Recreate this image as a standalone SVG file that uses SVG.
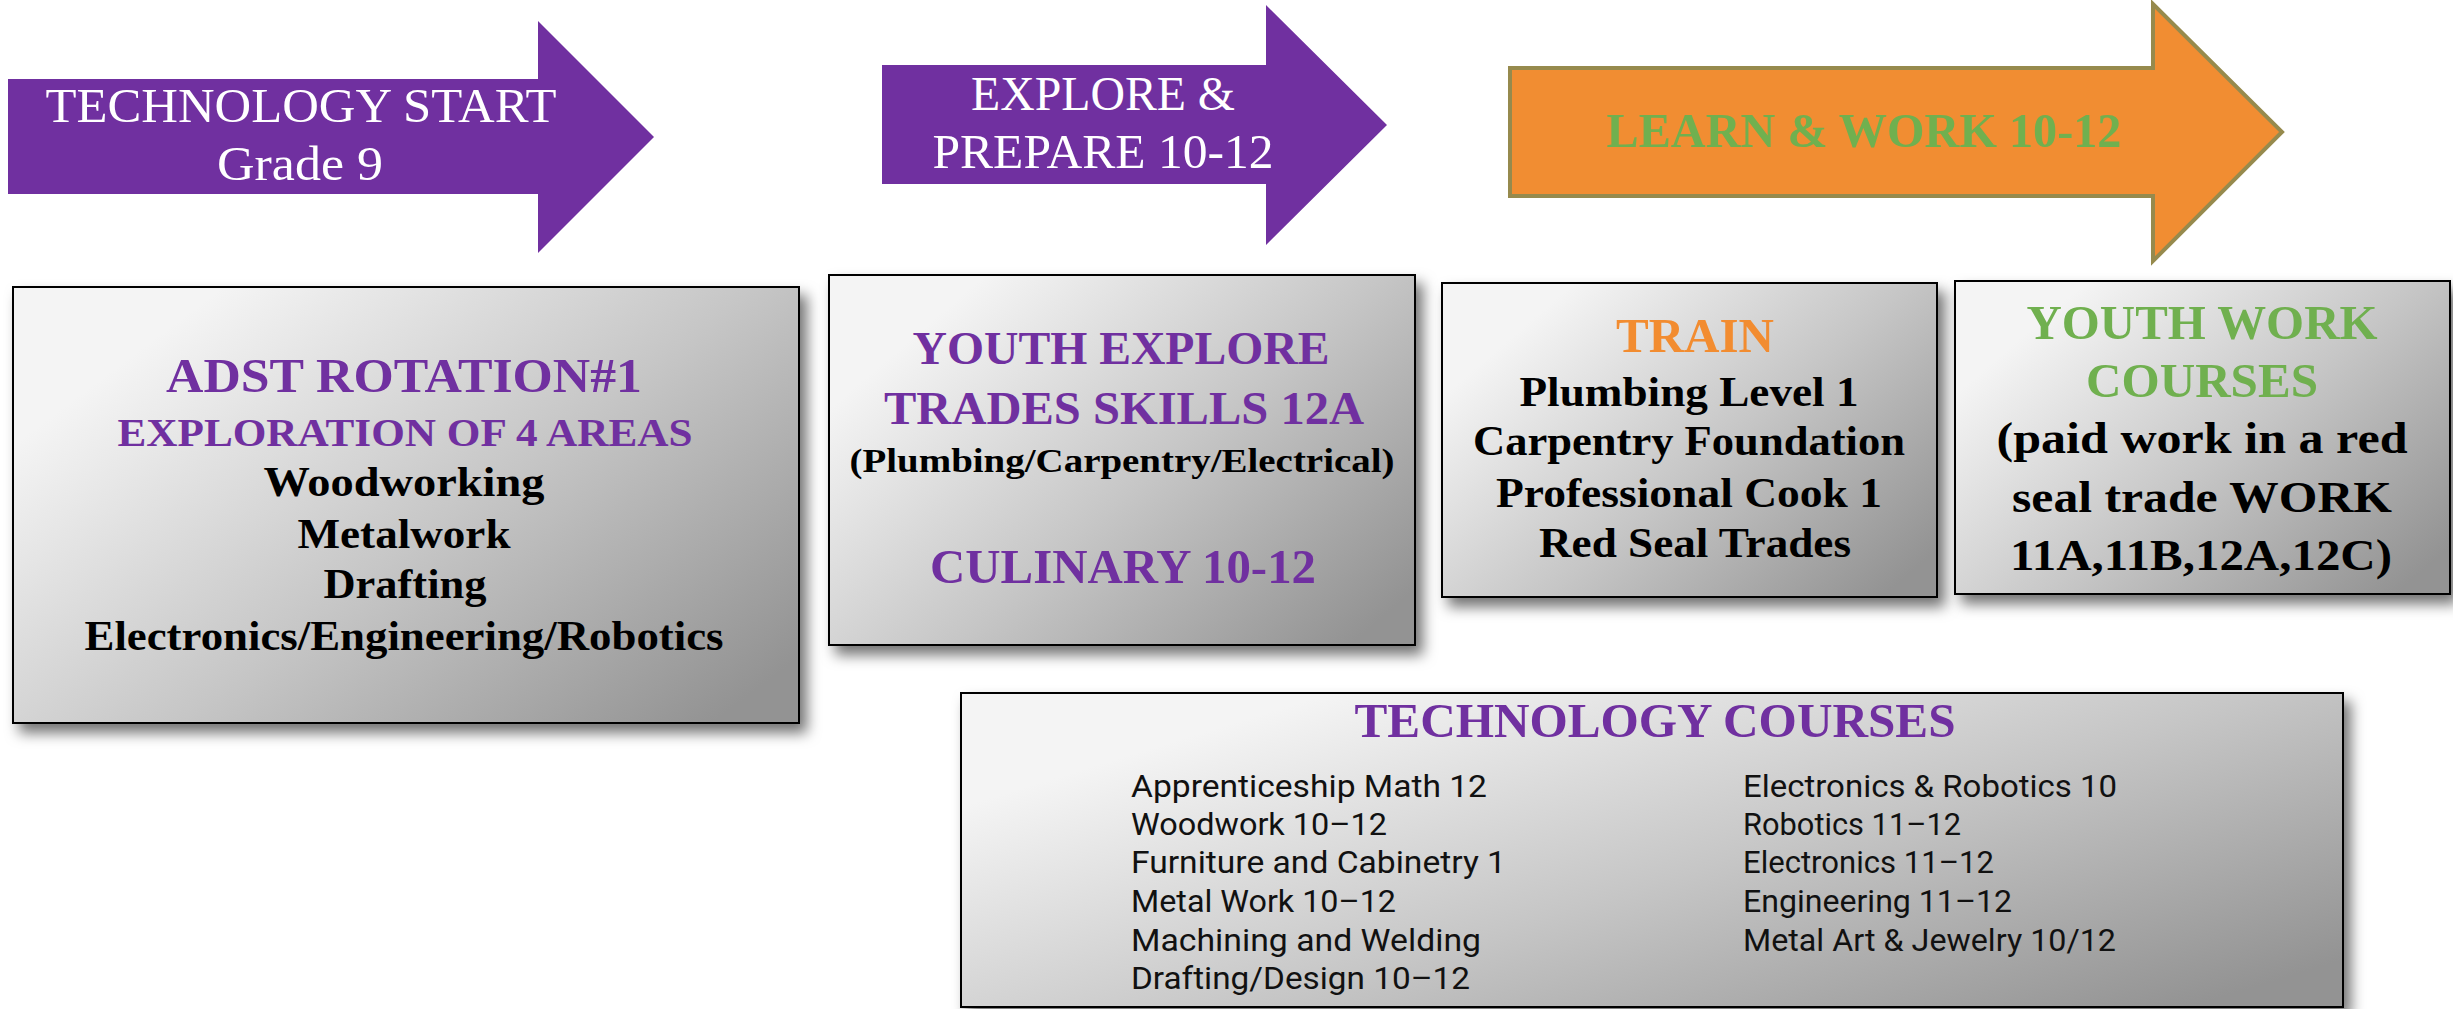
<svg xmlns="http://www.w3.org/2000/svg" width="2453" height="1009" viewBox="0 0 2453 1009">
<defs>
<linearGradient id="boxGrad" x1="0.12" y1="0.2" x2="1" y2="0.85">
<stop offset="0" stop-color="#f4f4f4"/>
<stop offset="0.5" stop-color="#c6c6c6"/>
<stop offset="1" stop-color="#939393"/>
</linearGradient>
<filter id="shadow" x="-10%" y="-10%" width="125%" height="130%">
<feDropShadow dx="7" dy="9" stdDeviation="7" flood-color="#000" flood-opacity="0.55"/>
</filter>
</defs>
<style>
.arrowP { fill: #7030A0; }
.arrowO { fill: #F18D32; stroke: #968A4D; stroke-width: 4; }
.box { fill: url(#boxGrad); stroke: #000; stroke-width: 2; filter: url(#shadow); }
.atxt { font-family: "Liberation Serif", serif; font-size: 48px; fill: #ffffff; text-anchor: middle; }
.sb { font-family: "Liberation Serif", serif; font-weight: bold; text-anchor: middle; }
.pur { fill: #7030A0; }
.blk { fill: #000000; }
.org { fill: #F28C30; }
.grn { fill: #70B04F; }
.course { font-family: Roboto, "Liberation Sans", sans-serif; font-size: 31px; fill: #111; }
</style>

<g id="arrow-technology-start">
<polygon class="arrowP" points="8,79 538,79 538,21 654,137 538,253 538,194 8,194"/>
<text class="atxt" x="301" y="122" textLength="511" lengthAdjust="spacingAndGlyphs">TECHNOLOGY START</text>
<text class="atxt" x="300" y="180" textLength="166" lengthAdjust="spacingAndGlyphs">Grade 9</text>
</g>

<g id="arrow-explore-prepare">
<polygon class="arrowP" points="882,65 1266,65 1266,5 1387,125 1266,245 1266,184 882,184"/>
<text class="atxt" x="1103" y="110" textLength="264" lengthAdjust="spacingAndGlyphs">EXPLORE &amp;</text>
<text class="atxt" x="1103" y="168" textLength="341" lengthAdjust="spacingAndGlyphs">PREPARE 10-12</text>
</g>

<g id="arrow-learn-work">
<polygon class="arrowO" points="1510,68 2153,68 2153,4 2282,132 2153,261 2153,196 1510,196"/>
<text class="sb grn" x="1864" y="147" font-size="48" textLength="515" lengthAdjust="spacingAndGlyphs">LEARN &amp; WORK 10-12</text>
</g>

<g id="box-adst">
<rect class="box" x="13" y="287" width="786" height="436"/>
<text class="sb pur" x="404" y="392" font-size="48" textLength="476" lengthAdjust="spacingAndGlyphs">ADST ROTATION#1</text>
<text class="sb pur" x="405" y="446" font-size="41" textLength="575" lengthAdjust="spacingAndGlyphs">EXPLORATION OF 4 AREAS</text>
<text class="sb blk" x="404" y="496" font-size="42" textLength="281" lengthAdjust="spacingAndGlyphs">Woodworking</text>
<text class="sb blk" x="404" y="548" font-size="42" textLength="213" lengthAdjust="spacingAndGlyphs">Metalwork</text>
<text class="sb blk" x="405" y="598" font-size="42" textLength="163" lengthAdjust="spacingAndGlyphs">Drafting</text>
<text class="sb blk" x="404" y="650" font-size="42" textLength="639" lengthAdjust="spacingAndGlyphs">Electronics/Engineering/Robotics</text>
</g>

<g id="box-youth-explore">
<rect class="box" x="829" y="275" width="586" height="370"/>
<text class="sb pur" x="1121" y="364" font-size="46" textLength="417" lengthAdjust="spacingAndGlyphs">YOUTH EXPLORE</text>
<text class="sb pur" x="1124" y="424" font-size="46" textLength="480" lengthAdjust="spacingAndGlyphs">TRADES SKILLS 12A</text>
<text class="sb blk" x="1122" y="472" font-size="33" textLength="545" lengthAdjust="spacingAndGlyphs">(Plumbing/Carpentry/Electrical)</text>
<text class="sb pur" x="1123" y="583" font-size="48" textLength="386" lengthAdjust="spacingAndGlyphs">CULINARY 10-12</text>
</g>

<g id="box-train">
<rect class="box" x="1442" y="283" width="495" height="314"/>
<text class="sb org" x="1695" y="352" font-size="48" textLength="158" lengthAdjust="spacingAndGlyphs">TRAIN</text>
<text class="sb blk" x="1689" y="406" font-size="43" textLength="339" lengthAdjust="spacingAndGlyphs">Plumbing Level 1</text>
<text class="sb blk" x="1689" y="455" font-size="43" textLength="432" lengthAdjust="spacingAndGlyphs">Carpentry Foundation</text>
<text class="sb blk" x="1689" y="507" font-size="43" textLength="386" lengthAdjust="spacingAndGlyphs">Professional Cook 1</text>
<text class="sb blk" x="1695" y="557" font-size="43" textLength="312" lengthAdjust="spacingAndGlyphs">Red Seal Trades</text>
</g>

<g id="box-youth-work">
<rect class="box" x="1955" y="281" width="495" height="313"/>
<text class="sb grn" x="2202" y="339" font-size="49" textLength="351" lengthAdjust="spacingAndGlyphs">YOUTH WORK</text>
<text class="sb grn" x="2202" y="397" font-size="49" textLength="232" lengthAdjust="spacingAndGlyphs">COURSES</text>
<text class="sb blk" x="2202" y="453" font-size="45" textLength="411" lengthAdjust="spacingAndGlyphs">(paid work in a red</text>
<text class="sb blk" x="2202" y="512" font-size="45" textLength="380" lengthAdjust="spacingAndGlyphs">seal trade WORK</text>
<text class="sb blk" x="2201" y="570" font-size="45" textLength="382" lengthAdjust="spacingAndGlyphs">11A,11B,12A,12C)</text>
</g>

<g id="box-technology-courses">
<rect class="box" x="961" y="693" width="1382" height="314"/>
<text class="sb pur" x="1655" y="737" font-size="48" textLength="601" lengthAdjust="spacingAndGlyphs">TECHNOLOGY COURSES</text>
<text class="course" x="1131" y="797" textLength="356" lengthAdjust="spacingAndGlyphs">Apprenticeship Math 12</text>
<text class="course" x="1131" y="835" textLength="256" lengthAdjust="spacingAndGlyphs">Woodwork 10–12</text>
<text class="course" x="1131" y="873" textLength="375" lengthAdjust="spacingAndGlyphs">Furniture and Cabinetry 1</text>
<text class="course" x="1131" y="912" textLength="265" lengthAdjust="spacingAndGlyphs">Metal Work 10–12</text>
<text class="course" x="1131" y="951" textLength="350" lengthAdjust="spacingAndGlyphs">Machining and Welding</text>
<text class="course" x="1131" y="989" textLength="339" lengthAdjust="spacingAndGlyphs">Drafting/Design 10–12</text>
<text class="course" x="1743" y="797" textLength="374" lengthAdjust="spacingAndGlyphs">Electronics &amp; Robotics 10</text>
<text class="course" x="1743" y="835" textLength="218" lengthAdjust="spacingAndGlyphs">Robotics 11–12</text>
<text class="course" x="1743" y="873" textLength="251" lengthAdjust="spacingAndGlyphs">Electronics 11–12</text>
<text class="course" x="1743" y="912" textLength="269" lengthAdjust="spacingAndGlyphs">Engineering 11–12</text>
<text class="course" x="1743" y="951" textLength="373" lengthAdjust="spacingAndGlyphs">Metal Art &amp; Jewelry 10/12</text>
</g>

<g id="connectors"></g>
</svg>
